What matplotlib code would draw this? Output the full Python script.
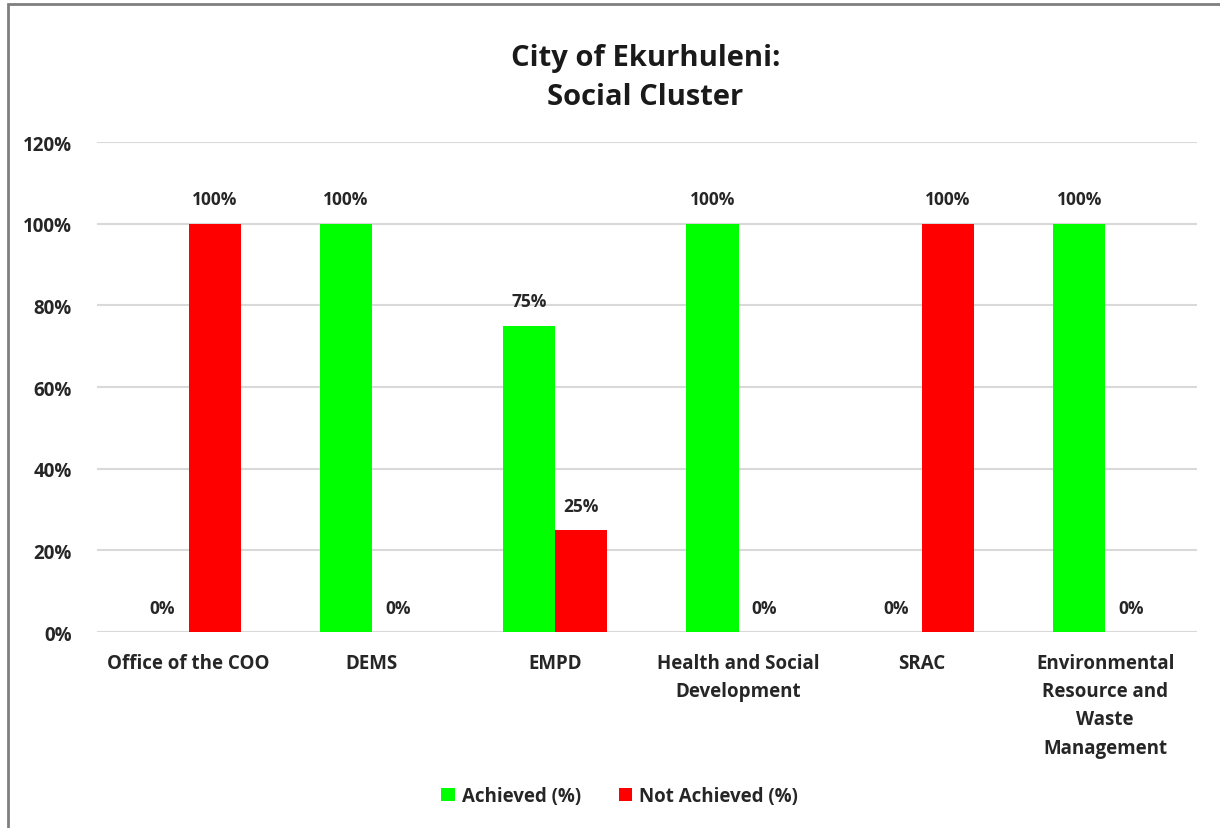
import numpy as np
import matplotlib.pyplot as plt
from matplotlib.patches import Rectangle
from matplotlib.ticker import PercentFormatter

plt.rcParams['font.family'] = ['Open Sans', 'DejaVu Sans']
plt.rcParams['font.weight'] = 'bold'

categories = ["Office of the COO", "DEMS", "EMPD", "Health and Social\nDevelopment",
              "SRAC", "Environmental\nResource and\nWaste\nManagement"]
achieved = [0, 100, 75, 100, 0, 100]
not_achieved = [100, 0, 25, 0, 100, 0]
series_names = ["Achieved (%)", "Not Achieved (%)"]
colors = ["#00ff00", "#ff0000"]

fig = plt.figure(figsize=(12.2, 8.29), dpi=100)
ax = fig.add_axes([0.0795, 0.2364, 0.9015, 0.5911])

x = np.arange(len(categories))
w = 0.284
b1 = ax.bar(x - w / 2, achieved, w, color=colors[0], label=series_names[0])
b2 = ax.bar(x + w / 2, not_achieved, w, color=colors[1], label=series_names[1])

# value labels above each bar
for bars, vals in ((b1, achieved), (b2, not_achieved)):
    for rect, v in zip(bars, vals):
        ax.annotate(f"{v}%", (rect.get_x() + rect.get_width() / 2, v),
                    xytext=(0, 11), textcoords="offset points",
                    ha="center", va="bottom", fontsize=12.5, fontweight="bold",
                    color="#262626")

ax.set_xlim(-0.5, len(categories) - 0.5)
ax.set_ylim(0, 120)
ax.set_yticks(np.arange(0, 121, 20))
ax.yaxis.set_major_formatter(PercentFormatter(decimals=0))
ax.grid(axis="y", color="#d9d9d9", lw=1.5)
ax.set_axisbelow(True)
for s in ax.spines.values():
    s.set_visible(False)
ax.tick_params(length=0)
ax.tick_params(axis="y", labelsize=13.5, pad=18, labelcolor="#262626")
ax.set_xticks(x)
ax.set_xticklabels(categories, fontsize=13.5, color="#262626", linespacing=1.55)
ax.tick_params(axis="x", pad=15)

fig.text(0.529, 0.906, "City of Ekurhuleni:\nSocial Cluster", ha="center", va="center",
         fontsize=21, fontweight="bold", color="#1a1a1a", linespacing=1.45)

fig.legend(handles=[b1, b2], loc="center", bbox_to_anchor=(0.508, 0.038), ncol=2,
           frameon=False, fontsize=13.5, handlelength=0.7, handleheight=0.7,
           handletextpad=0.4, columnspacing=2.0, labelcolor="#262626")

# outer chart border
fig.patches.append(Rectangle((0.0066, -0.05), 1.1, 1.044, transform=fig.transFigure,
                             fill=False, edgecolor="#7f7f7f", lw=2))

fig.savefig("out.png", dpi=100)
